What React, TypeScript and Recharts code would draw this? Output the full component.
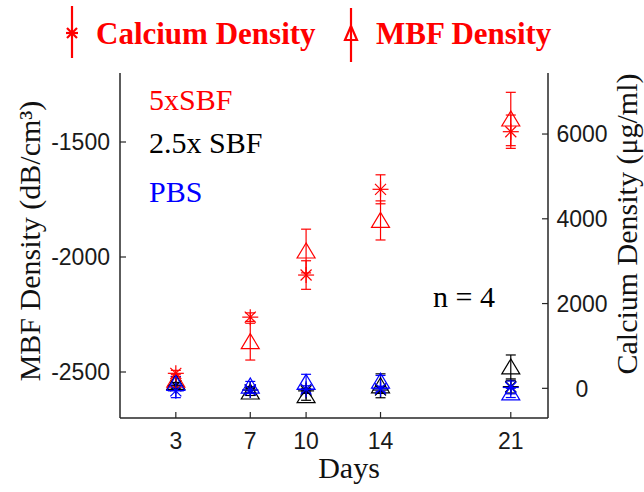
import React from 'react';
import { ComposedChart, Scatter, ErrorBar, XAxis, YAxis, Legend, Customized } from 'recharts';

if (typeof document !== 'undefined') {
  document.body.style.margin = '0';
}

// Sampling days
const days = [3, 7, 10, 14, 21];

// MBF density (dB/cm^3), left axis
const mbf5x = [-2535, -2368, -1974, -1841, -1400];
const mbf5xErr = [25, 80, 95, 85, 116];
const mbf25x = [-2545, -2587, -2603, -2560, -2478];
const mbf25xErr = [25, 15, 20, 52, 52];
const mbfPbs = [-2550, -2561, -2545, -2540, -2591];
const mbfPbsErr = [30, 20, 35, 25, 20];

// Calcium density (ug/ml), right axis
const ca5x = [354, 1680, 2673, 4696, 6055];
const ca5xErr = [70, 100, 337, 342, 393];
const ca25x = [60, -40, -60, -40, 40];
const ca25xErr = [80, 60, 60, 80, 150];
const caPbs = [-60, -40, -20, -10, 20];
const caPbsErr = [160, 80, 80, 60, 150];

// Axis ticks
const dayTicks = [3, 7, 10, 14, 21];
const mbfTicks = [-2500, -2000, -1500];
const caTicks = [0, 2000, 4000, 6000];

const RED = '#ff0000';
const BLUE = '#0000ff';
const BLACK = '#000000';
const AXIS = '#262626';
const SERIF = '"Liberation Serif", "Times New Roman", Times, serif';
const SANS = '"Liberation Sans", Arial, Helvetica, sans-serif';

const rows = (vals: number[], errs: number[]) =>
  days.map((day, i) => ({ day, value: vals[i], err: errs[i] }));

const triangleShape = (color: string) => (props: any) => {
  const { cx, cy } = props;
  if (cx == null || cy == null) return <g />;
  return (
    <polygon
      points={`${cx},${cy - 8} ${cx - 9},${cy + 7} ${cx + 9},${cy + 7}`}
      fill="none"
      stroke={color}
      strokeWidth={1.2}
    />
  );
};

const asteriskShape = (color: string) => (props: any) => {
  const { cx, cy } = props;
  if (cx == null || cy == null) return <g />;
  const r = 8;
  const d = 5.5;
  return (
    <g stroke={color} strokeWidth={1.2} fill="none">
      <line x1={cx - r} y1={cy} x2={cx + r} y2={cy} />
      <line x1={cx} y1={cy - r} x2={cx} y2={cy + r} />
      <line x1={cx - d} y1={cy - d} x2={cx + d} y2={cy + d} />
      <line x1={cx - d} y1={cy + d} x2={cx + d} y2={cy - d} />
      <circle cx={cx} cy={cy} r={1.3} fill={color} stroke="none" />
    </g>
  );
};

const BottomTick = (p: any) => {
  const { x, y, payload } = p;
  return (
    <g>
      <line x1={x} y1={y} x2={x} y2={y - 6} stroke={AXIS} strokeWidth={1.2} />
      <text x={x} y={y + 31} textAnchor="middle" fontFamily={SANS} fontSize={23} fill="#1a1a1a">
        {payload.value}
      </text>
    </g>
  );
};

const LeftTick = (p: any) => {
  const { x, y, payload } = p;
  return (
    <g>
      <line x1={x} y1={y} x2={x + 6} y2={y} stroke={AXIS} strokeWidth={1.2} />
      <text x={x - 10} y={y} dy="0.36em" textAnchor="end" fontFamily={SANS} fontSize={23} fill="#1a1a1a">
        {payload.value}
      </text>
    </g>
  );
};

const RightTick = (p: any) => {
  const { x, y, payload } = p;
  return (
    <g>
      <line x1={x} y1={y} x2={x - 6} y2={y} stroke={AXIS} strokeWidth={1.2} />
      <text x={x + 34} y={y} dy="0.36em" textAnchor="middle" fontFamily={SANS} fontSize={23} fill="#1a1a1a">
        {payload.value}
      </text>
    </g>
  );
};

const LegendContent = () => (
  <svg width={644} height={66} style={{ display: 'block' }}>
    <g stroke={RED} strokeWidth={2.2} fill="none">
      <line x1={72} y1={6} x2={72} y2={58} />
      <line x1={66} y1={33} x2={78} y2={33} />
      <line x1={67} y1={28} x2={77} y2={38} />
      <line x1={67} y1={38} x2={77} y2={28} />
      <line x1={351} y1={8} x2={351} y2={62} />
      <polygon points="351,26 345,40 357,40" />
    </g>
    <text x={96} y={44} fontFamily={SERIF} fontWeight="bold" fontSize={31} fill={RED}>
      Calcium Density
    </text>
    <text x={376} y={44} fontFamily={SERIF} fontWeight="bold" fontSize={31} fill={RED}>
      MBF Density
    </text>
  </svg>
);

const Annotations = () => (
  <g fontFamily={SERIF} fontSize={30}>
    <text x={149} y={110} fill={RED}>5xSBF</text>
    <text x={149} y={153} fill={BLACK}>2.5x SBF</text>
    <text x={149} y={202} fill={BLUE}>PBS</text>
    <text x={433} y={307} fill={BLACK}>n = 4</text>
    <text x={349} y={478} textAnchor="middle" fill="#111">Days</text>
    <text x={40} y={241} textAnchor="middle" fill="#111" transform="rotate(-90 40 241)">
      MBF  Density (dB/cm³)
    </text>
    <text x={637} y={224} textAnchor="middle" fill="#111" transform="rotate(-90 637 224)">
      Calcium Density (μg/ml)
    </text>
  </g>
);

const series = [
  { key: 'mbf25x', axis: 'left', data: rows(mbf25x, mbf25xErr), color: BLACK, shape: triangleShape(BLACK) },
  { key: 'ca25x', axis: 'right', data: rows(ca25x, ca25xErr), color: BLACK, shape: asteriskShape(BLACK) },
  { key: 'mbf5x', axis: 'left', data: rows(mbf5x, mbf5xErr), color: RED, shape: triangleShape(RED) },
  { key: 'ca5x', axis: 'right', data: rows(ca5x, ca5xErr), color: RED, shape: asteriskShape(RED) },
  { key: 'mbfPbs', axis: 'left', data: rows(mbfPbs, mbfPbsErr), color: BLUE, shape: triangleShape(BLUE) },
  { key: 'caPbs', axis: 'right', data: rows(caPbs, caPbsErr), color: BLUE, shape: asteriskShape(BLUE) },
];

export default function App() {
  return (
    <div style={{ width: 644, height: 492, background: '#fff' }}>
      <ComposedChart width={644} height={492} margin={{ top: 73, right: 0, bottom: 0, left: 0 }}>
        <XAxis
          dataKey="day"
          type="number"
          domain={[0, 23]}
          ticks={dayTicks}
          allowDataOverflow
          height={74}
          tickSize={0}
          tickMargin={0}
          tick={<BottomTick />}
          axisLine={{ stroke: AXIS, strokeWidth: 1.5 }}
          tickLine={false}
        />
        <YAxis
          yAxisId="left"
          type="number"
          domain={[-2700, -1200]}
          ticks={mbfTicks}
          allowDataOverflow
          width={120}
          tickSize={0}
          tickMargin={0}
          tick={<LeftTick />}
          axisLine={{ stroke: AXIS, strokeWidth: 1.5 }}
          tickLine={false}
        />
        <YAxis
          yAxisId="right"
          orientation="right"
          type="number"
          domain={[-700, 7440]}
          ticks={caTicks}
          allowDataOverflow
          width={96}
          tickSize={0}
          tickMargin={0}
          tick={<RightTick />}
          axisLine={{ stroke: AXIS, strokeWidth: 1.5 }}
          tickLine={false}
        />
        <Legend
          layout="vertical"
          align="center"
          verticalAlign="middle"
          wrapperStyle={{ top: 0, left: 0, width: 644, height: 66 }}
          content={<LegendContent />}
        />
        <Customized component={<Annotations />} />
        {series.map((s) => (
          <Scatter
            key={s.key}
            name={s.key}
            yAxisId={s.axis}
            data={s.data}
            dataKey="value"
            shape={s.shape}
            isAnimationActive={false}
          >
            <ErrorBar dataKey="err" direction="y" width={5} stroke={s.color} strokeWidth={1.2} />
          </Scatter>
        ))}
      </ComposedChart>
    </div>
  );
}
